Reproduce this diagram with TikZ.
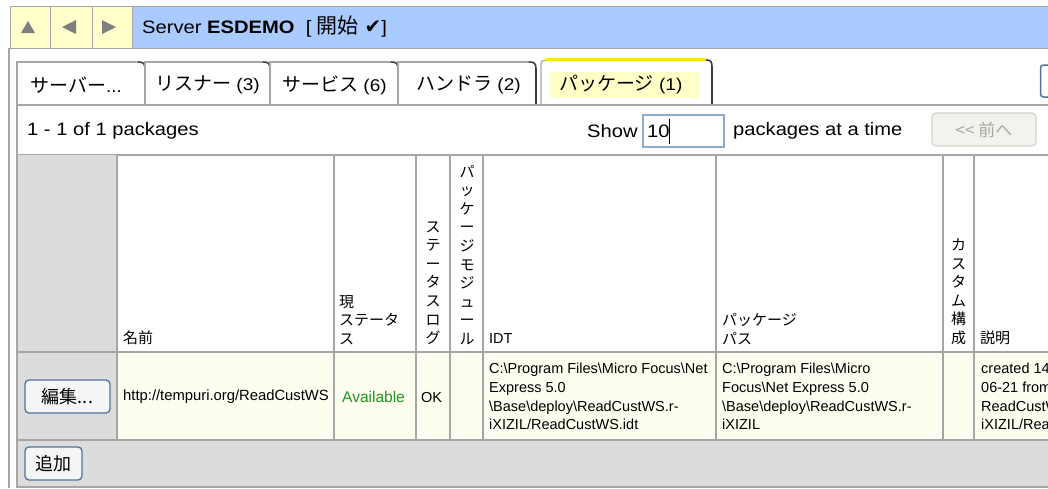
\documentclass[tikz,border=0pt]{standalone}
\usepackage{fontspec}
\setmainfont{Liberation Sans}
\newfontfamily\uifont[FakeStretch=1.12]{Liberation Sans}
\newfontfamily\jp{Noto Sans CJK JP}
\newfontfamily\dv{DejaVu Sans}
\definecolor{topyel}{HTML}{FFFFCC}
\definecolor{topblue}{HTML}{A9CBFF}
\definecolor{gridc}{HTML}{A6A6A6}
\definecolor{tabdark}{HTML}{3C3C3C}
\definecolor{cellgrey}{HTML}{DCDCDC}
\definecolor{rowyel}{HTML}{FEFEF0}
\definecolor{hiyel}{HTML}{FFFFC8}
\definecolor{tabtopyel}{HTML}{FFE800}
\definecolor{okgreen}{HTML}{1E961E}
\definecolor{btnblue}{HTML}{50719E}
\definecolor{trigrey}{HTML}{7F7F7F}
\definecolor{boxblue}{HTML}{8FAAD0}
\definecolor{prevfill}{HTML}{F3F2EC}
\definecolor{prevline}{HTML}{D4D4CC}
\definecolor{prevtext}{HTML}{A9A9A0}
\newcommand{\mytab}[2]{%
  \draw[gridc, line width=1.2pt] (#1,105) -- (#1,62) -- ({#2-7},62);
  \draw[tabdark, line width=1.6pt] ({#2-7},62) .. controls ({#2-2},62) and (#2,63) .. (#2,69) -- (#2,105);
}
\newcommand{\tj}[1]{{\jp\fontsize{19}{22}\selectfont #1}}
\begin{document}
\begin{tikzpicture}[x=1pt,y=-1pt,
  every node/.style={inner sep=0pt},
  uitext/.style={font=\uifont\fontsize{18}{21}\selectfont},
  tabtext/.style={font=\uifont\fontsize{17}{20}\selectfont, anchor=west},
  headjp/.style={font=\jp\fontsize{15}{18.6}\selectfont},
  datatext/.style={font=\fontsize{14.5}{18.7}\selectfont, align=left, anchor=north west},
  btn/.style={draw=btnblue, line width=1.3pt, rounded corners=4pt, fill=black!4, font=\jp\fontsize{18}{20}\selectfont},
  grid/.style={gridc, line width=1.6pt}]
\useasboundingbox (0,0) rectangle (1048,488);
\fill[white] (0,0) rectangle (1048,488);
% top bar
\filldraw[fill=topyel, draw=gridc] (10,6) rectangle (50,48);
\filldraw[fill=topyel, draw=gridc] (50,6) rectangle (92,48);
\filldraw[fill=topyel, draw=gridc] (92,6) rectangle (132,48);
\filldraw[fill=topblue, draw=gridc] (132,6) rectangle (1052,48);
\fill[trigrey] (21,33) -- (35,33) -- (28,21) -- cycle;
\fill[trigrey] (62,27) -- (76,20) -- (76,34) -- cycle;
\fill[trigrey] (116,27) -- (102,20) -- (102,34) -- cycle;
\node[uitext, anchor=west] (title) at (142,27) {Server \textbf{ESDEMO} \ [ {\jp\fontsize{21}{23}\selectfont 開始} {\dv\fontsize{20}{22}\selectfont ✔}]};
% panel borders
\draw[gridc, line width=1.2pt] (9,48) -- (9,488);
\draw[gridc, line width=1.2pt] (17,62) -- (17,488);
% tabs
\mytab{17}{145}
\mytab{145}{270}
\mytab{270}{398}
\mytab{398}{536}
\fill[hiyel] (549,72) rectangle (699,98);
\draw[gridc, line width=1.2pt] (541,105) -- (541,66) .. controls (541,61) .. (546,60);
\draw[tabtopyel, line width=2.2pt] (546,59.5) -- (706,59.5);
\draw[tabdark, line width=1.6pt] (706,60) .. controls (711,60) and (712,62) .. (712,67) -- (712,105);
\node[tabtext] (t1) at (30,85) {\tj{サーバー}...};
\node[tabtext] (t2) at (155,85) {\tj{リスナー} (3)};
\node[tabtext] (t3) at (282,85) {\tj{サービス} (6)};
\node[tabtext] (t4) at (416,85) {\tj{ハンドラ} (2)};
\node[tabtext] (t5) at (559,85) {\tj{パッケージ} (1)};
\draw[btnblue, line width=1.5pt, rounded corners=3pt, fill=white] (1040.5,65) rectangle (1058,97);
\draw[grid] (17,105) -- (1048,105);
% pagination row
\node[uitext, anchor=west] (count) at (27,131) {1 - 1 of 1 packages};
\node[uitext, anchor=west] (show) at (587,131) {Show};
\draw[boxblue, line width=1.2pt, fill=white] (643,115) rectangle (724,147);
\node[uitext, anchor=west] (num) at (647,131) {10};
\draw[black, line width=1pt] (669,119) -- (669,144);
\node[uitext, anchor=west] (atatime) at (733,131) {packages at a time};
\node[draw=prevline, line width=1.2pt, fill=prevfill, rounded corners=4pt, minimum width=104pt, minimum height=33pt, text=prevtext, font=\jp\fontsize{17}{20}\selectfont] (prev) at (984,129.5) {<< 前へ};
\draw[grid] (17,155) -- (1048,155);
% table backgrounds
\fill[cellgrey] (17,155) rectangle (117,440);
\fill[rowyel] (117,352) rectangle (1048,440);
\fill[cellgrey] (17,440) rectangle (1048,487);
% grid lines
\draw[grid] (17,352) -- (1048,352);
\draw[grid] (17,440) -- (1048,440);
\draw[grid] (17,487) -- (1048,487);
\foreach \cx in {117,334,416,450,483,716,943,974} {\draw[grid] (\cx,155) -- (\cx,440);}
\draw[gridc, line width=1.2pt] (17,155) -- (17,488);
% header texts
\node[headjp, anchor=base west] (hname) at (123,343) {名前};
\node[headjp, anchor=south west, align=left] (hstat) at (339,345) {現\\ステータ\\ス};
\node[headjp, anchor=south, align=center] (hlog) at (433,345) {ス\\テ\\ー\\タ\\ス\\ロ\\グ};
\node[headjp, anchor=south, align=center] (hmod) at (467,345) {パ\\ッ\\ケ\\ー\\ジ\\モ\\ジ\\ュ\\ー\\ル};
\node[font=\fontsize{14.5}{17}\selectfont, anchor=base west] (hidt) at (489,343) {IDT};
\node[headjp, anchor=south west, align=left] (hpath) at (722,345) {パッケージ\\パス};
\node[headjp, anchor=south, align=center] (hcust) at (958.5,345) {カ\\ス\\タ\\ム\\構\\成};
\node[headjp, anchor=base west] (hdesc) at (980,343) {説明};
% data row
\node[btn, minimum width=85pt, minimum height=33pt] (edit) at (67.5,396.5) {編集...};
\node[font=\fontsize{14.8}{17}\selectfont, anchor=west] (url) at (123,397) {http://tempuri.org/ReadCustWS};
\node[font=\fontsize{15.5}{17}\selectfont, anchor=west, text=okgreen] (avail) at (342,397) {Available};
\node[font=\fontsize{14.5}{17}\selectfont, anchor=west] (ok) at (421,397) {OK};
\node[datatext] (idt) at (489,363) {C:\textbackslash Program Files\textbackslash Micro Focus\textbackslash Net\\Express 5.0\\\textbackslash Base\textbackslash deploy\textbackslash ReadCustWS.r-\\iXIZIL/ReadCustWS.idt};
\node[datatext] (path) at (722,363) {C:\textbackslash Program Files\textbackslash Micro\\Focus\textbackslash Net Express 5.0\\\textbackslash Base\textbackslash deploy\textbackslash ReadCustWS.r-\\iXIZIL};
\begin{scope}
\clip (975,352) rectangle (1048,440);
\node[datatext] (desc) at (981,363) {created 14\\06-21 from\\ReadCustWS\\iXIZIL/ReadCustWS};
\end{scope}
% footer
\node[btn, minimum width=57pt, minimum height=33pt] (add) at (53.5,463.5) {追加};
\end{tikzpicture}
\end{document}
